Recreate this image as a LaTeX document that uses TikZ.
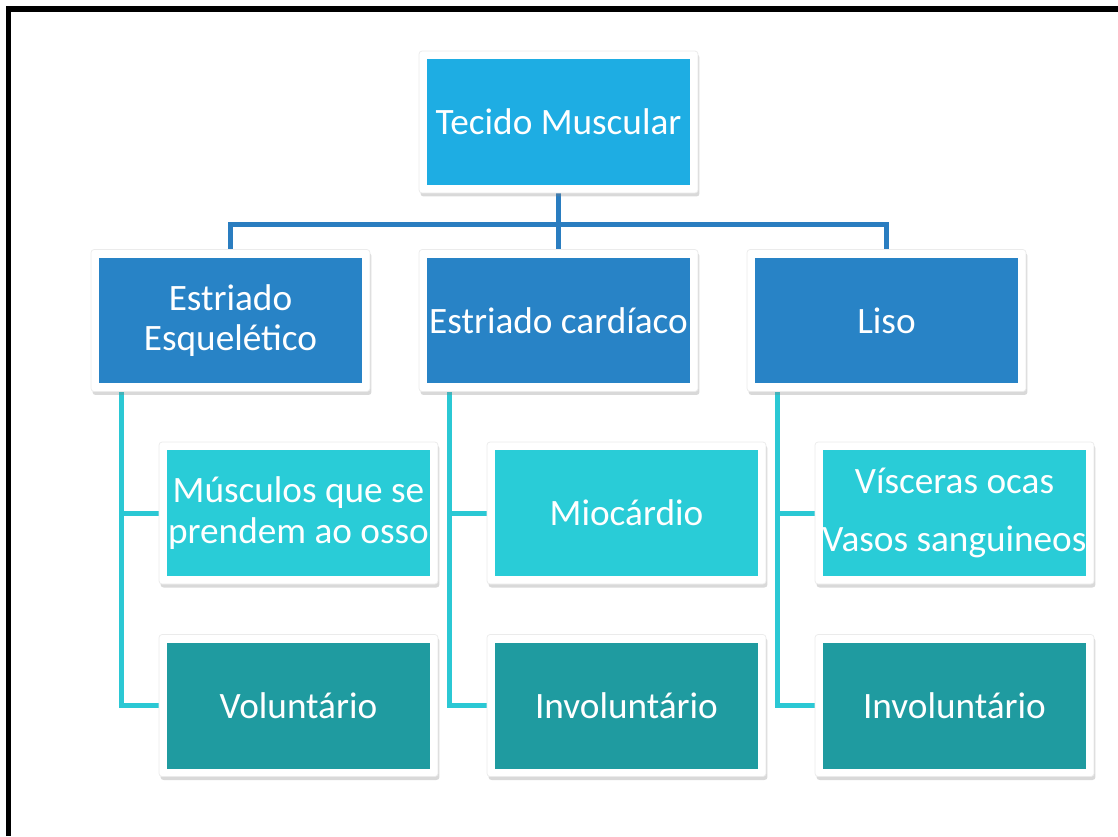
\documentclass[tikz,border=0pt]{standalone}
\usepackage{fontspec}
\setmainfont{Carlito}
\usepackage{xcolor}
\usetikzlibrary{shadows,backgrounds}

\definecolor{topblue}{HTML}{1EADE3}
\definecolor{midblue}{HTML}{2883C6}
\definecolor{lightcyan}{HTML}{29CCD7}
\definecolor{darkteal}{HTML}{1F9BA0}
\definecolor{barblue}{HTML}{2A7DC0}
\definecolor{barcyan}{HTML}{2BC8D4}

\begin{document}
\begin{tikzpicture}[x=0.02cm, y=-0.02cm,
  box/.style={fill=white, draw=black!8, line width=0.4pt, rounded corners=0.06cm,
    minimum width=5.58cm, minimum height=2.84cm, inner sep=0pt, text=white, align=center,
    font=\fontsize{21.2}{22.9}\selectfont,
    drop shadow={shadow xshift=0.03cm, shadow yshift=-0.07cm, opacity=0.3},
    path picture={\fill[#1, sharp corners] ([shift={(0.16cm,0.16cm)}]path picture bounding box.south west)
      rectangle ([shift={(-0.16cm,-0.16cm)}]path picture bounding box.north east);}},
  busline/.style={barblue, line width=0.1cm},
  subline/.style={barcyan, line width=0.1cm}]
  % Fix the page size and draw the frame
  \useasboundingbox (0,0) rectangle (1118,836);
  \draw[line width=0.12cm] (8.5,836) -- (8.5,9) -- (1118,9);

  % Top box
  \node[box=topblue] (top) at (558.5,122) {Tecido Muscular};

  % Second row
  \node[box=midblue] (esq) at (230.5,320.5) {Estriado\\Esquelético};
  \node[box=midblue] (card) at (558.5,320.5) {Estriado cardíaco};
  \node[box=midblue] (liso) at (886.5,320.5) {Liso};

  % Third row
  \node[box=lightcyan] (musc) at (298.5,513) {Músculos que se\\prendem ao osso};
  \node[box=darkteal] (volE) at (298.5,705.5) {Voluntário};
  \node[box=lightcyan] (mioc) at (626.5,513) {Miocárdio};
  \node[box=darkteal] (invC) at (626.5,705.5) {Involuntário};
  \node[box=lightcyan] (visc) at (954.5,513) {Vísceras ocas\\[9.6pt]Vasos sanguineos};
  \node[box=darkteal] (invL) at (954.5,705.5) {Involuntário};

  % Connectors behind the boxes
  \begin{pgfonlayer}{background}
    \coordinate (bus) at (558.5,224);
    \draw[busline] (top.south) -- (card.north);
    \draw[busline] (bus) -| (esq.north);
    \draw[busline] (bus) -| (liso.north);
    \draw[subline] (esq.south west) ++(31,0) |- (musc.west);
    \draw[subline] (esq.south west) ++(31,0) |- (volE.west);
    \draw[subline] (card.south west) ++(31,0) |- (mioc.west);
    \draw[subline] (card.south west) ++(31,0) |- (invC.west);
    \draw[subline] (liso.south west) ++(31,0) |- (visc.west);
    \draw[subline] (liso.south west) ++(31,0) |- (invL.west);
  \end{pgfonlayer}
\end{tikzpicture}
\end{document}
